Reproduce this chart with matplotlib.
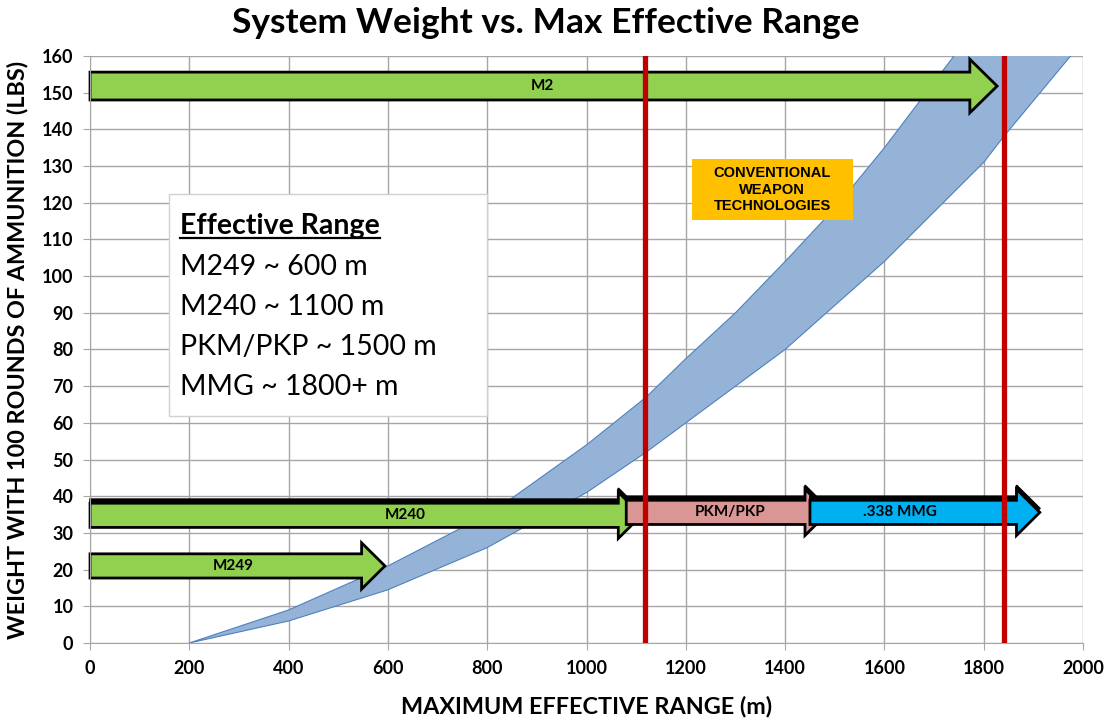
import matplotlib
matplotlib.use("Agg")
import matplotlib.pyplot as plt
from matplotlib.patches import Polygon, Rectangle

# band of system weight vs range (upper / lower edges)
upper_x = [200, 400, 600, 800, 850, 1000, 1120, 1200, 1300, 1400, 1500, 1600, 1740, 1800]
upper_y = [0, 9, 21, 35, 39.5, 54, 67, 77.5, 90, 104, 118.5, 135, 160, 171]
lower_x = [200, 400, 600, 800, 1000, 1120, 1200, 1400, 1600, 1800, 1840, 1975, 2000]
lower_y = [0, 6, 14.5, 26, 41, 52, 60, 80, 104, 131, 138, 160, 164]

# weapon arrows
arrow_names = ["M2", "M240", "PKM/PKP", ".338 MMG", "M249"]
arrow_start = [0, 0, 1080, 1450, 0]
arrow_end = [1827, 1111, 1487, 1913, 594]
arrow_weight = [151.8, 34.8, 35.6, 35.6, 21]
arrow_label_x = [912, 634, 1289, 1631, 288]
arrow_colors = ["#92d050", "#92d050", "#d99694", "#00b0f0", "#92d050"]

# reference ranges (red lines)
ref_ranges = [1118, 1840]

range_lines = ["M249 ~ 600 m", "M240 ~ 1100 m", "PKM/PKP ~ 1500 m", "MMG ~ 1800+ m"]

plt.rcParams['font.family'] = ['Lato', 'DejaVu Sans']

fig = plt.figure(figsize=(11.1, 7.24), dpi=100)
ax = fig.add_axes([0.0811, 0.1119, 0.8946, 0.8108])
ax.set_xlim(0, 2000)
ax.set_ylim(0, 160)
ax.set_xticks(range(0, 2001, 200))
ax.set_yticks(range(0, 161, 10))
ax.grid(True, color="#a6a6a6", linewidth=1.0, zorder=0)
ax.set_axisbelow(True)
for s in ["top", "right"]:
    ax.spines[s].set_visible(False)
for s in ["left", "bottom"]:
    ax.spines[s].set_color("#a6a6a6")
ax.tick_params(colors="#a6a6a6", length=5, labelcolor="black", labelsize=13)
ax.tick_params(axis="y", pad=7)
ax.tick_params(axis="x", pad=7)
for lbl in ax.get_xticklabels() + ax.get_yticklabels():
    lbl.set_fontweight("bold")

# band
poly_x = upper_x + lower_x[::-1]
poly_y = upper_y + lower_y[::-1]
ax.fill(poly_x, poly_y, facecolor="#95b3d7", edgecolor="#4f81bd", linewidth=0.8, zorder=1)


def arrow_poly(x0, x1, yc, body, head, head_len):
    xb = x1 - head_len
    return [(x0, yc - body), (xb, yc - body), (xb, yc - head), (x1, yc),
            (xb, yc + head), (xb, yc + body), (x0, yc + body)]


for i, name in enumerate(arrow_names):
    if name == "M2":
        body, head, hl = 3.8, 7.3, 55
    else:
        body, head, hl = 3.3, 6.3, 47
    pts = arrow_poly(arrow_start[i], arrow_end[i], arrow_weight[i], body, head, hl)
    if 30 < arrow_weight[i] < 40:
        shadow = [(px, py + 1.1) for px, py in pts]
        ax.add_patch(Polygon(shadow, closed=True, facecolor="black", edgecolor="black",
                             linewidth=1.2, zorder=2 + i * 0.1, clip_on=False))
    ax.add_patch(Polygon(pts, closed=True, facecolor=arrow_colors[i], edgecolor="black",
                         linewidth=2, zorder=2.05 + i * 0.1, clip_on=False))
    ax.text(arrow_label_x[i], arrow_weight[i], name, ha="center", va="center",
            fontsize=11, fontweight="bold", zorder=3)

for r in ref_ranges:
    ax.axvline(r, color="#c00000", linewidth=3.8, zorder=4)

# effective range box
ax.add_patch(Rectangle((160, 61.9), 640, 60.4, facecolor="white", edgecolor="#d0d0d0",
                       linewidth=1, zorder=5))
t = ax.text(181, 111.6, "Effective Range", fontsize=20.5, fontweight="bold", zorder=6,
            va="baseline")
for k, line in enumerate(range_lines):
    ax.text(181, 100.4 - k * 10.9, line, fontsize=20.5, zorder=6, va="baseline")
fig.canvas.draw()
bb = t.get_window_extent().transformed(ax.transData.inverted())
ax.plot([bb.x0, bb.x1], [110.4, 110.4], color="black", linewidth=1.6, zorder=6)

# conventional box
ax.add_patch(Rectangle((1212, 115.4), 325, 16.4, facecolor="#ffc000", edgecolor="none", zorder=5))
ax.text(1374, 123.6, "CONVENTIONAL\nWEAPON\nTECHNOLOGIES", ha="center", va="center",
        fontsize=10.5, fontweight="bold", linespacing=1.2, zorder=6,
        family=["Liberation Sans", "DejaVu Sans"])

ax.set_xlabel("MAXIMUM EFFECTIVE RANGE (m)", fontsize=16.8, fontweight="bold", labelpad=14)
ax.set_ylabel("WEIGHT WITH 100 ROUNDS OF AMMUNITION (LBS)", fontsize=16.8, fontweight="bold",
              labelpad=10)
fig.text(0.492, 0.968, "System Weight vs. Max Effective Range", ha="center", va="center",
         fontsize=25.5, fontweight="bold")

fig.savefig("out.png", dpi=100)
